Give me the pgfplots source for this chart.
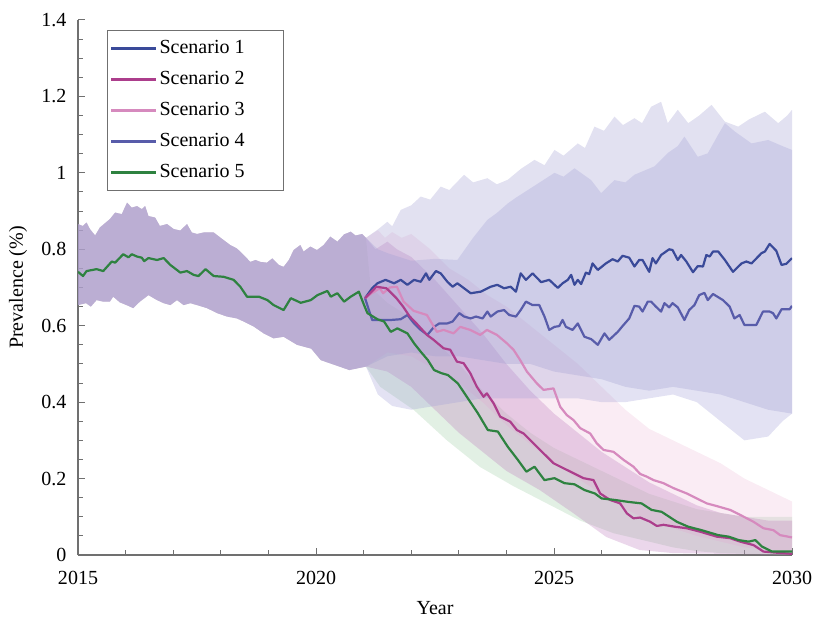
\documentclass[border=0pt]{standalone}
\usepackage{fontspec}
\setmainfont{Liberation Serif}
\usepackage{pgfplots}
\pgfplotsset{compat=1.18}
\definecolor{axisgray}{RGB}{112,112,112}
\definecolor{bA}{RGB}{158,155,208}
\definecolor{bD}{RGB}{162,160,214}
\definecolor{bB}{RGB}{188,122,188}
\definecolor{bC}{RGB}{238,192,218}
\definecolor{bE}{RGB}{158,205,165}
\definecolor{sA}{RGB}{58,74,153}
\definecolor{sB}{RGB}{172,62,140}
\definecolor{sC}{RGB}{214,138,190}
\definecolor{sD}{RGB}{88,92,170}
\definecolor{sE}{RGB}{46,130,64}
\begin{document}
\begin{tikzpicture}[font=\fontsize{20bp}{24bp}\selectfont]
\path[use as bounding box] (0,0) rectangle (813bp,621bp);
\begin{axis}[
  at={(78bp,66bp)}, anchor=south west,
  scale only axis, width=714bp, height=535bp,
  xmin=2015, xmax=2030, ymin=0, ymax=1.4,
  axis lines=left, axis line style={-, draw=axisgray, line width=1.3bp},
  xtick={2015,2020,2025,2030}, xticklabels={2015,2020,2025,2030},
  minor x tick num=4,
  ytick={0,0.2,0.4,0.6,0.8,1,1.2,1.4}, yticklabels={0,0.2,0.4,0.6,0.8,1,1.2,1.4},
  minor y tick num=3,
  tick align=inside, major tick length=7bp, minor tick length=5bp,
  tick style={axisgray, line width=1bp},
  xticklabel style={yshift=-13bp},
  yticklabel style={xshift=-8bp},
  xlabel={Year}, ylabel={Prevalence (\%)},
  xlabel style={at={(axis description cs:0.5,-0.099)}, anchor=center},
  ylabel style={at={(axis description cs:-0.084,0.5)}, anchor=center},
  legend style={at={(0.0406,0.9813)}, anchor=north west, draw=axisgray, line width=0.8bp,
    inner xsep=3bp, inner ysep=7bp, row sep=9bp,
    nodes={text height=14bp, text depth=4bp, inner sep=2bp},
    cells={anchor=west}},
  legend image code/.code={\draw[#1] (0bp,0bp) -- (45bp,0bp);},
]
\addlegendimage{sA, line width=2.2bp}\addlegendentry{Scenario 1\hspace*{34bp}}
\addlegendimage{sB, line width=2.2bp}\addlegendentry{Scenario 2\hspace*{34bp}}
\addlegendimage{sC, line width=2.2bp}\addlegendentry{Scenario 3\hspace*{34bp}}
\addlegendimage{sD, line width=2.2bp}\addlegendentry{Scenario 4\hspace*{34bp}}
\addlegendimage{sE, line width=2.2bp}\addlegendentry{Scenario 5\hspace*{34bp}}

% ===== Scenario 5 band (history + projection) =====
\addplot[fill=bE, draw=none, fill opacity=0.3, forget plot] coordinates {
(2015.0,0.866)(2015.1,0.861)(2015.18,0.870)(2015.25,0.853)(2015.36,0.836)(2015.46,0.857)(2015.67,0.879)(2015.78,0.896)(2015.92,0.892)(2016.03,0.922)(2016.13,0.909)(2016.24,0.913)(2016.34,0.905)(2016.41,0.913)(2016.48,0.887)(2016.62,0.883)(2016.72,0.861)(2016.87,0.866)(2017.01,0.853)(2017.15,0.849)(2017.29,0.866)(2017.39,0.844)(2017.50,0.840)(2017.64,0.844)(2017.85,0.844)(2018.06,0.824)(2018.20,0.811)(2018.34,0.802)(2018.48,0.785)(2018.62,0.767)(2018.73,0.772)(2018.83,0.767)(2018.97,0.765)(2019.08,0.776)(2019.22,0.759)(2019.32,0.754)(2019.43,0.772)(2019.53,0.798)(2019.67,0.811)(2019.74,0.794)(2019.88,0.807)(2020.02,0.798)(2020.16,0.811)(2020.30,0.833)(2020.45,0.820)(2020.59,0.839)(2020.73,0.846)(2020.83,0.836)(2020.97,0.840)
(2021.05,0.83)(2021.15,0.70)(2021.5,0.66)(2022,0.62)(2022.5,0.56)(2023,0.50)(2023.5,0.43)(2024,0.37)(2024.5,0.32)(2025,0.28)(2025.5,0.25)(2026,0.22)(2026.5,0.19)(2027,0.16)(2027.5,0.14)(2028,0.12)(2028.5,0.11)(2029,0.10)(2029.5,0.10)(2030,0.10)
(2030,0.0)(2028.5,0.005)(2028,0.01)(2027.5,0.02)(2027,0.035)(2026.25,0.057)(2025.55,0.09)(2024.85,0.135)(2024.15,0.18)(2023.45,0.23)(2022.75,0.30)(2022.05,0.38)(2021.35,0.44)(2021.05,0.493)
(2020.70,0.484)(2020.40,0.497)(2020.10,0.510)(2019.90,0.540)(2019.60,0.550)(2019.32,0.571)(2019.11,0.567)(2018.90,0.580)(2018.69,0.598)(2018.48,0.611)(2018.34,0.619)(2018.13,0.624)(2017.92,0.633)(2017.71,0.646)(2017.50,0.654)(2017.36,0.659)(2017.22,0.654)(2017.08,0.667)(2016.94,0.654)(2016.80,0.659)(2016.66,0.667)(2016.48,0.680)(2016.30,0.663)(2016.16,0.646)(2016.02,0.654)(2015.88,0.661)(2015.74,0.676)(2015.67,0.663)(2015.53,0.663)(2015.39,0.667)(2015.27,0.650)(2015.17,0.659)(2015.0,0.654)} -- cycle;

% ===== Scenario 3 band =====
\addplot[fill=bC, draw=none, fill opacity=0.3, forget plot] coordinates {
(2015.0,0.866)(2015.1,0.861)(2015.18,0.870)(2015.25,0.853)(2015.36,0.836)(2015.46,0.857)(2015.67,0.879)(2015.78,0.896)(2015.92,0.892)(2016.03,0.922)(2016.13,0.909)(2016.24,0.913)(2016.34,0.905)(2016.41,0.913)(2016.48,0.887)(2016.62,0.883)(2016.72,0.861)(2016.87,0.866)(2017.01,0.853)(2017.15,0.849)(2017.29,0.866)(2017.39,0.844)(2017.50,0.840)(2017.64,0.844)(2017.85,0.844)(2018.06,0.824)(2018.20,0.811)(2018.34,0.802)(2018.48,0.785)(2018.62,0.767)(2018.73,0.772)(2018.83,0.767)(2018.97,0.765)(2019.08,0.776)(2019.22,0.759)(2019.32,0.754)(2019.43,0.772)(2019.53,0.798)(2019.67,0.811)(2019.74,0.794)(2019.88,0.807)(2020.02,0.798)(2020.16,0.811)(2020.30,0.833)(2020.45,0.820)(2020.59,0.839)(2020.73,0.846)(2020.83,0.836)(2020.97,0.840)
(2021.05,0.83)(2021.3,0.85)(2021.45,0.83)(2021.6,0.845)(2021.8,0.83)(2022,0.84)(2022.2,0.82)(2022.4,0.80)(2022.8,0.75)(2023.2,0.72)(2023.6,0.68)(2024,0.65)(2024.5,0.60)(2025,0.55)(2025.5,0.50)(2026,0.44)(2026.5,0.38)(2027,0.33)(2027.5,0.30)(2028,0.27)(2028.5,0.24)(2029,0.20)(2029.5,0.17)(2030,0.14)
(2030,0.01)(2029,0.02)(2028.5,0.035)(2028,0.05)(2027.5,0.07)(2027,0.09)(2026.5,0.12)(2026,0.16)(2025.5,0.20)(2025,0.24)(2024.5,0.29)(2024,0.34)(2023.5,0.40)(2023,0.45)(2022,0.52)(2021.5,0.53)(2021.05,0.493)
(2020.70,0.484)(2020.40,0.497)(2020.10,0.510)(2019.90,0.540)(2019.60,0.550)(2019.32,0.571)(2019.11,0.567)(2018.90,0.580)(2018.69,0.598)(2018.48,0.611)(2018.34,0.619)(2018.13,0.624)(2017.92,0.633)(2017.71,0.646)(2017.50,0.654)(2017.36,0.659)(2017.22,0.654)(2017.08,0.667)(2016.94,0.654)(2016.80,0.659)(2016.66,0.667)(2016.48,0.680)(2016.30,0.663)(2016.16,0.646)(2016.02,0.654)(2015.88,0.661)(2015.74,0.676)(2015.67,0.663)(2015.53,0.663)(2015.39,0.667)(2015.27,0.650)(2015.17,0.659)(2015.0,0.654)} -- cycle;

% ===== Scenario 2 band =====
\addplot[fill=bB, draw=none, fill opacity=0.3, forget plot] coordinates {
(2015.0,0.866)(2015.1,0.861)(2015.18,0.870)(2015.25,0.853)(2015.36,0.836)(2015.46,0.857)(2015.67,0.879)(2015.78,0.896)(2015.92,0.892)(2016.03,0.922)(2016.13,0.909)(2016.24,0.913)(2016.34,0.905)(2016.41,0.913)(2016.48,0.887)(2016.62,0.883)(2016.72,0.861)(2016.87,0.866)(2017.01,0.853)(2017.15,0.849)(2017.29,0.866)(2017.39,0.844)(2017.50,0.840)(2017.64,0.844)(2017.85,0.844)(2018.06,0.824)(2018.20,0.811)(2018.34,0.802)(2018.48,0.785)(2018.62,0.767)(2018.73,0.772)(2018.83,0.767)(2018.97,0.765)(2019.08,0.776)(2019.22,0.759)(2019.32,0.754)(2019.43,0.772)(2019.53,0.798)(2019.67,0.811)(2019.74,0.794)(2019.88,0.807)(2020.02,0.798)(2020.16,0.811)(2020.30,0.833)(2020.45,0.820)(2020.59,0.839)(2020.73,0.846)(2020.83,0.836)(2020.97,0.840)
(2021.05,0.83)(2021.25,0.80)(2021.5,0.82)(2021.7,0.80)(2022,0.78)(2022.5,0.72)(2023,0.65)(2023.5,0.58)(2024,0.50)(2024.5,0.43)(2025,0.37)(2025.5,0.32)(2026,0.27)(2026.5,0.23)(2027,0.19)(2027.5,0.16)(2028,0.13)(2028.5,0.11)(2029,0.10)(2029.5,0.09)(2030,0.09)
(2030,0.0)(2027.5,0.005)(2026.8,0.013)(2026.1,0.047)(2025.4,0.11)(2024.7,0.17)(2024,0.22)(2023.5,0.27)(2023,0.32)(2022.5,0.38)(2022,0.44)(2021.5,0.48)(2021.05,0.493)
(2020.70,0.484)(2020.40,0.497)(2020.10,0.510)(2019.90,0.540)(2019.60,0.550)(2019.32,0.571)(2019.11,0.567)(2018.90,0.580)(2018.69,0.598)(2018.48,0.611)(2018.34,0.619)(2018.13,0.624)(2017.92,0.633)(2017.71,0.646)(2017.50,0.654)(2017.36,0.659)(2017.22,0.654)(2017.08,0.667)(2016.94,0.654)(2016.80,0.659)(2016.66,0.667)(2016.48,0.680)(2016.30,0.663)(2016.16,0.646)(2016.02,0.654)(2015.88,0.661)(2015.74,0.676)(2015.67,0.663)(2015.53,0.663)(2015.39,0.667)(2015.27,0.650)(2015.17,0.659)(2015.0,0.654)} -- cycle;

% ===== Scenario 4 band =====
\addplot[fill=bD, draw=none, fill opacity=0.3, forget plot] coordinates {
(2015.0,0.866)(2015.1,0.861)(2015.18,0.870)(2015.25,0.853)(2015.36,0.836)(2015.46,0.857)(2015.67,0.879)(2015.78,0.896)(2015.92,0.892)(2016.03,0.922)(2016.13,0.909)(2016.24,0.913)(2016.34,0.905)(2016.41,0.913)(2016.48,0.887)(2016.62,0.883)(2016.72,0.861)(2016.87,0.866)(2017.01,0.853)(2017.15,0.849)(2017.29,0.866)(2017.39,0.844)(2017.50,0.840)(2017.64,0.844)(2017.85,0.844)(2018.06,0.824)(2018.20,0.811)(2018.34,0.802)(2018.48,0.785)(2018.62,0.767)(2018.73,0.772)(2018.83,0.767)(2018.97,0.765)(2019.08,0.776)(2019.22,0.759)(2019.32,0.754)(2019.43,0.772)(2019.53,0.798)(2019.67,0.811)(2019.74,0.794)(2019.88,0.807)(2020.02,0.798)(2020.16,0.811)(2020.30,0.833)(2020.45,0.820)(2020.59,0.839)(2020.73,0.846)(2020.83,0.836)(2020.97,0.840)
(2021.05,0.83)(2021.3,0.80)(2021.5,0.79)(2022,0.77)(2022.5,0.775)(2022.97,0.772)(2023.3,0.83)(2023.6,0.877)(2023.8,0.895)(2024.03,0.920)(2024.2,0.935)(2024.45,0.955)(2024.7,0.975)(2025.01,1.000)(2025.2,0.990)(2025.43,1.012)(2025.78,0.981)(2025.99,0.947)(2026.27,0.981)(2026.5,0.975)(2026.69,0.995)(2027.11,1.017)(2027.39,1.052)(2027.6,1.070)(2027.74,1.095)(2028.02,1.042)(2028.23,1.051)(2028.45,1.100)(2028.59,1.130)(2028.8,1.108)(2029.15,1.077)(2029.5,1.086)(2029.8,1.070)(2030,1.060)
(2030,0.37)(2029.8,0.35)(2029.5,0.31)(2029,0.30)(2028.5,0.35)(2028,0.40)(2027.5,0.42)(2027,0.41)(2026.5,0.40)(2026,0.40)(2025.5,0.41)(2025,0.41)(2024.5,0.41)(2024,0.41)(2023.5,0.41)(2023,0.40)(2022.5,0.39)(2022,0.38)(2021.6,0.39)(2021.3,0.42)(2021.05,0.493)
(2020.70,0.484)(2020.40,0.497)(2020.10,0.510)(2019.90,0.540)(2019.60,0.550)(2019.32,0.571)(2019.11,0.567)(2018.90,0.580)(2018.69,0.598)(2018.48,0.611)(2018.34,0.619)(2018.13,0.624)(2017.92,0.633)(2017.71,0.646)(2017.50,0.654)(2017.36,0.659)(2017.22,0.654)(2017.08,0.667)(2016.94,0.654)(2016.80,0.659)(2016.66,0.667)(2016.48,0.680)(2016.30,0.663)(2016.16,0.646)(2016.02,0.654)(2015.88,0.661)(2015.74,0.676)(2015.67,0.663)(2015.53,0.663)(2015.39,0.667)(2015.27,0.650)(2015.17,0.659)(2015.0,0.654)} -- cycle;

% ===== Scenario 1 band =====
\addplot[fill=bA, draw=none, fill opacity=0.3, forget plot] coordinates {
(2015.0,0.866)(2015.1,0.861)(2015.18,0.870)(2015.25,0.853)(2015.36,0.836)(2015.46,0.857)(2015.67,0.879)(2015.78,0.896)(2015.92,0.892)(2016.03,0.922)(2016.13,0.909)(2016.24,0.913)(2016.34,0.905)(2016.41,0.913)(2016.48,0.887)(2016.62,0.883)(2016.72,0.861)(2016.87,0.866)(2017.01,0.853)(2017.15,0.849)(2017.29,0.866)(2017.39,0.844)(2017.50,0.840)(2017.64,0.844)(2017.85,0.844)(2018.06,0.824)(2018.20,0.811)(2018.34,0.802)(2018.48,0.785)(2018.62,0.767)(2018.73,0.772)(2018.83,0.767)(2018.97,0.765)(2019.08,0.776)(2019.22,0.759)(2019.32,0.754)(2019.43,0.772)(2019.53,0.798)(2019.67,0.811)(2019.74,0.794)(2019.88,0.807)(2020.02,0.798)(2020.16,0.811)(2020.30,0.833)(2020.45,0.820)(2020.59,0.839)(2020.73,0.846)(2020.83,0.836)(2020.97,0.840)
(2021.05,0.83)(2021.29,0.851)(2021.5,0.872)(2021.6,0.860)(2021.78,0.903)(2022.0,0.915)(2022.2,0.938)(2022.4,0.930)(2022.62,0.964)(2022.8,0.955)(2023.11,0.995)(2023.3,0.975)(2023.6,0.986)(2023.8,0.970)(2024.03,0.982)(2024.3,1.010)(2024.59,1.034)(2024.8,1.020)(2025.01,1.060)(2025.2,1.045)(2025.5,1.077)(2025.65,1.065)(2025.85,1.121)(2026.05,1.110)(2026.27,1.147)(2026.45,1.125)(2026.69,1.143)(2026.85,1.130)(2027.04,1.173)(2027.25,1.186)(2027.39,1.130)(2027.6,1.165)(2027.82,1.130)(2028.05,1.150)(2028.31,1.178)(2028.59,1.134)(2028.87,1.121)(2029.1,1.140)(2029.43,1.160)(2029.71,1.130)(2029.9,1.150)(2030,1.165)
(2030,0.37)(2029.5,0.38)(2029,0.40)(2028.5,0.42)(2028,0.43)(2027.5,0.44)(2027,0.43)(2026.5,0.44)(2026,0.46)(2025.5,0.47)(2025,0.48)(2024.5,0.50)(2024,0.50)(2023.5,0.51)(2023,0.52)(2022.5,0.52)(2022,0.53)(2021.5,0.52)(2021.05,0.493)
(2020.70,0.484)(2020.40,0.497)(2020.10,0.510)(2019.90,0.540)(2019.60,0.550)(2019.32,0.571)(2019.11,0.567)(2018.90,0.580)(2018.69,0.598)(2018.48,0.611)(2018.34,0.619)(2018.13,0.624)(2017.92,0.633)(2017.71,0.646)(2017.50,0.654)(2017.36,0.659)(2017.22,0.654)(2017.08,0.667)(2016.94,0.654)(2016.80,0.659)(2016.66,0.667)(2016.48,0.680)(2016.30,0.663)(2016.16,0.646)(2016.02,0.654)(2015.88,0.661)(2015.74,0.676)(2015.67,0.663)(2015.53,0.663)(2015.39,0.667)(2015.27,0.650)(2015.17,0.659)(2015.0,0.654)} -- cycle;

% ---------- Scenario 4 line ----------
\addplot[sD, line width=2.2bp, line join=round, forget plot] coordinates {
(2021.03,0.672)(2021.18,0.615)(2021.36,0.615)(2021.57,0.615)(2021.78,0.617)(2021.92,0.628)(2022.06,0.606)
(2022.20,0.589)(2022.34,0.576)(2022.48,0.597)(2022.59,0.606)(2022.76,0.606)(2022.87,0.611)(2023.01,0.633)
(2023.11,0.624)(2023.25,0.619)(2023.36,0.624)(2023.50,0.619)(2023.60,0.637)(2023.67,0.624)(2023.81,0.637)
(2023.95,0.641)(2024.06,0.628)(2024.20,0.624)(2024.30,0.641)(2024.41,0.663)(2024.55,0.654)(2024.69,0.654)
(2024.80,0.624)(2024.90,0.589)(2025.01,0.597)(2025.11,0.599)(2025.18,0.615)(2025.25,0.597)(2025.39,0.589)
(2025.50,0.606)(2025.64,0.571)(2025.78,0.565)(2025.92,0.550)(2026.06,0.580)(2026.16,0.563)(2026.34,0.584)
(2026.44,0.599)(2026.58,0.619)(2026.69,0.652)(2026.79,0.650)(2026.86,0.637)(2026.97,0.663)(2027.04,0.663)
(2027.14,0.650)(2027.25,0.637)(2027.32,0.659)(2027.42,0.648)(2027.49,0.659)(2027.60,0.648)(2027.74,0.615)
(2027.84,0.641)(2027.95,0.654)(2028.05,0.680)(2028.16,0.686)(2028.23,0.667)(2028.34,0.683)(2028.55,0.667)
(2028.69,0.650)(2028.79,0.619)(2028.90,0.628)(2029.00,0.602)(2029.25,0.602)(2029.39,0.637)(2029.53,0.637)
(2029.60,0.633)(2029.67,0.619)(2029.78,0.643)(2029.95,0.643)(2030.0,0.652)};

% ---------- Scenario 1 line ----------
\addplot[sA, line width=2.2bp, line join=round, forget plot] coordinates {
(2021.03,0.672)(2021.18,0.698)(2021.29,0.711)(2021.46,0.720)(2021.64,0.711)(2021.78,0.720)(2021.92,0.707)
(2022.06,0.720)(2022.20,0.715)(2022.31,0.737)(2022.38,0.720)(2022.52,0.743)(2022.62,0.737)(2022.76,0.715)
(2022.87,0.702)(2022.97,0.711)(2023.11,0.698)(2023.25,0.685)(2023.46,0.689)(2023.67,0.702)(2023.81,0.707)
(2023.95,0.698)(2024.09,0.702)(2024.20,0.689)(2024.30,0.737)(2024.41,0.720)(2024.55,0.737)(2024.73,0.714)
(2024.90,0.720)(2025.08,0.699)(2025.18,0.711)(2025.29,0.720)(2025.36,0.733)(2025.43,0.707)(2025.50,0.720)
(2025.57,0.709)(2025.67,0.739)(2025.74,0.735)(2025.81,0.763)(2025.92,0.746)(2026.09,0.763)(2026.23,0.774)
(2026.34,0.768)(2026.44,0.783)(2026.58,0.778)(2026.69,0.755)(2026.79,0.772)(2026.86,0.772)(2027.00,0.741)
(2027.07,0.777)(2027.14,0.763)(2027.25,0.785)(2027.42,0.800)(2027.49,0.798)(2027.60,0.772)(2027.67,0.785)
(2027.78,0.768)(2027.92,0.740)(2028.02,0.756)(2028.13,0.755)(2028.20,0.785)(2028.27,0.781)(2028.34,0.794)
(2028.45,0.794)(2028.59,0.772)(2028.76,0.741)(2028.94,0.763)(2029.04,0.768)(2029.15,0.763)(2029.36,0.790)
(2029.43,0.794)(2029.53,0.814)(2029.67,0.796)(2029.78,0.759)(2029.88,0.762)(2030.0,0.777)};

% ---------- Scenario 3 line ----------
\addplot[sC, line width=2.2bp, line join=round, forget plot] coordinates {
(2021.03,0.672)(2021.17,0.685)(2021.34,0.698)(2021.41,0.685)(2021.55,0.700)(2021.70,0.702)(2021.84,0.663)
(2022.05,0.639)(2022.33,0.628)(2022.54,0.584)(2022.68,0.589)(2022.89,0.580)(2023.03,0.597)(2023.24,0.589)
(2023.45,0.576)(2023.59,0.589)(2023.80,0.576)(2024.01,0.554)(2024.15,0.537)(2024.29,0.510)(2024.43,0.480)
(2024.64,0.449)(2024.78,0.432)(2024.99,0.436)(2025.13,0.388)(2025.27,0.366)(2025.41,0.353)(2025.55,0.332)
(2025.76,0.318)(2025.90,0.292)(2026.04,0.275)(2026.25,0.270)(2026.46,0.249)(2026.67,0.231)(2026.81,0.212)
(2026.95,0.205)(2027.09,0.196)(2027.30,0.188)(2027.51,0.175)(2027.79,0.161)(2028.00,0.148)(2028.21,0.135)
(2028.42,0.128)(2028.70,0.118)(2028.91,0.105)(2029.19,0.087)(2029.40,0.070)(2029.61,0.065)(2029.75,0.052)
(2030.0,0.046)};

% ---------- Scenario 2 line ----------
\addplot[sB, line width=2.2bp, line join=round, forget plot] coordinates {
(2021.03,0.672)(2021.27,0.702)(2021.48,0.698)(2021.69,0.672)(2021.83,0.650)(2021.97,0.624)(2022.11,0.606)
(2022.33,0.576)(2022.47,0.563)(2022.68,0.541)(2022.82,0.537)(2022.96,0.506)(2023.10,0.502)(2023.24,0.476)
(2023.38,0.440)(2023.52,0.414)(2023.59,0.423)(2023.73,0.397)(2023.87,0.362)(2024.08,0.349)(2024.22,0.327)
(2024.36,0.318)(2024.57,0.292)(2024.78,0.266)(2024.99,0.240)(2025.20,0.227)(2025.41,0.214)(2025.62,0.201)
(2025.83,0.196)(2025.97,0.161)(2026.18,0.144)(2026.39,0.135)(2026.53,0.109)(2026.67,0.096)(2026.81,0.098)
(2027.02,0.087)(2027.16,0.076)(2027.30,0.079)(2027.54,0.074)(2027.79,0.070)(2028.07,0.061)(2028.42,0.048)
(2028.70,0.044)(2028.91,0.035)(2029.19,0.026)(2029.40,0.009)(2029.68,0.006)(2030.0,0.003)};

% ---------- Scenario 5 line ----------
\addplot[sE, line width=2.2bp, line join=round, forget plot] coordinates {
(2015.0,0.741)(2015.105,0.730)(2015.18,0.743)(2015.39,0.748)(2015.53,0.743)(2015.71,0.768)(2015.78,0.765)
(2015.95,0.787)(2016.06,0.779)(2016.13,0.787)(2016.24,0.781)(2016.34,0.778)(2016.39,0.769)(2016.48,0.777)
(2016.66,0.772)(2016.80,0.777)(2016.94,0.759)(2017.15,0.739)(2017.29,0.743)(2017.43,0.733)(2017.53,0.730)
(2017.68,0.748)(2017.85,0.730)(2018.06,0.728)(2018.27,0.720)(2018.41,0.702)(2018.55,0.676)(2018.80,0.676)
(2018.98,0.667)(2019.11,0.654)(2019.32,0.641)(2019.47,0.672)(2019.68,0.660)(2019.89,0.667)(2020.03,0.680)
(2020.24,0.691)(2020.31,0.676)(2020.45,0.685)(2020.59,0.663)(2020.73,0.676)(2020.90,0.689)(2021.01,0.654)
(2021.08,0.633)(2021.29,0.617)(2021.43,0.611)(2021.57,0.584)(2021.71,0.593)(2021.92,0.580)(2022.06,0.554)
(2022.20,0.532)(2022.35,0.510)(2022.48,0.484)(2022.63,0.476)(2022.77,0.471)(2022.98,0.449)(2023.19,0.410)
(2023.40,0.371)(2023.61,0.327)(2023.82,0.323)(2024.03,0.283)(2024.24,0.249)(2024.42,0.218)(2024.59,0.231)
(2024.80,0.196)(2025.01,0.201)(2025.22,0.188)(2025.43,0.185)(2025.64,0.170)(2025.86,0.161)(2026.00,0.148)
(2026.28,0.144)(2026.56,0.139)(2026.84,0.135)(2027.05,0.118)(2027.26,0.113)(2027.47,0.096)(2027.58,0.087)
(2027.82,0.074)(2028.10,0.065)(2028.45,0.052)(2028.67,0.048)(2028.88,0.039)(2029.09,0.035)(2029.23,0.039)
(2029.37,0.022)(2029.58,0.009)(2030.0,0.009)};
\end{axis}
\end{tikzpicture}
\end{document}
